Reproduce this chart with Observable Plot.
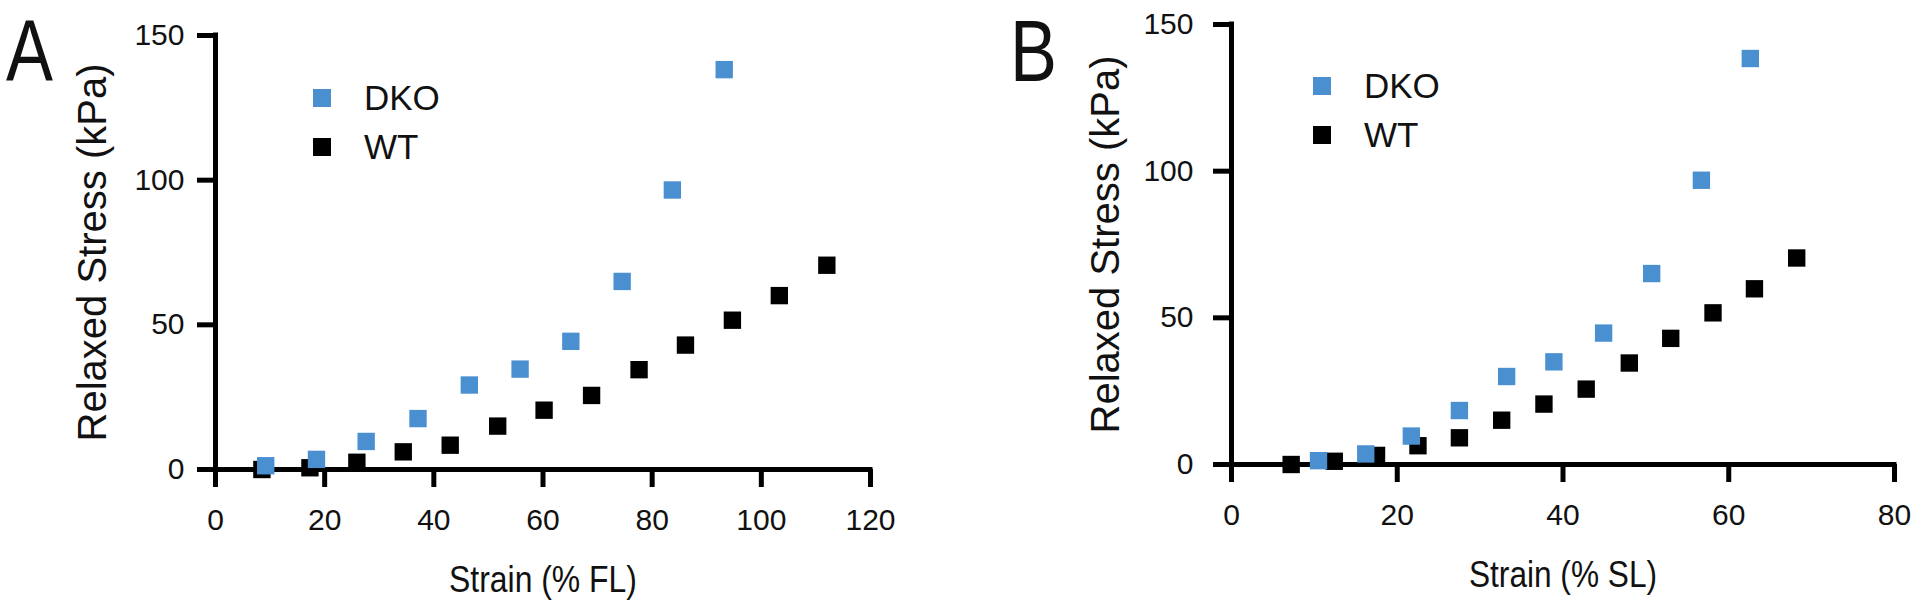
<!DOCTYPE html>
<html>
<head>
<meta charset="utf-8">
<script src="https://cdn.jsdelivr.net/npm/d3@7"></script>
<script src="https://cdn.jsdelivr.net/npm/@observablehq/plot@0.6"></script>
<style>
  html, body { margin: 0; padding: 0; background: #fff; }
  #wrap { position: relative; width: 1920px; height: 611px; overflow: hidden; background: #fff; font-family: "Liberation Sans", Arial, sans-serif; color: #111; }
  .panel { position: absolute; top: 0; width: 960px; height: 611px; }
  .letter { position: absolute; font-size: 88px; line-height: 1.16; transform: scaleX(0.8); transform-origin: left top; color: #111; font-family: "Liberation Sans", Arial, sans-serif; }
  .legend { position: absolute; }
  .legend .row { position: absolute; left: 0; display: flex; align-items: center; white-space: nowrap; }
  .legend .sw { width: 18px; height: 18px; }
  .legend .lab { font-size: 35px; margin-left: 33px; line-height: 1.15; }
</style>
</head>
<body>
<div id="wrap">
  <div class="panel" id="pa" style="left:0px"></div>
  <div class="panel" id="pb" style="left:960px"></div>
</div>
<script>
// ---------- data ----------
const seriesNames = ["DKO", "WT"];
const seriesColors = ["#4a8fd0", "#000000"];

// Panel A: Strain (% FL)
const dkoA_x = [9.2, 18.5, 27.6, 37.1, 46.5, 55.8, 65.1, 74.5, 83.7, 93.2];
const dkoA_y = [1.3, 3.5, 9.7, 17.6, 29.2, 34.7, 44.3, 65.0, 96.6, 138.2];
const wtA_x = [8.5, 17.3, 25.9, 34.4, 43.0, 51.7, 60.2, 68.9, 77.6, 86.1, 94.7, 103.3, 112.0];
const wtA_y = [0.0, 0.6, 2.5, 6.1, 8.4, 15.0, 20.5, 25.6, 34.5, 43.0, 51.6, 60.1, 70.6];

// Panel B: Strain (% SL)
const dkoB_x = [10.5, 16.2, 21.7, 27.5, 33.2, 38.9, 44.9, 50.7, 56.7, 62.6];
const dkoB_y = [1.3, 3.6, 9.7, 18.4, 30.0, 35.0, 44.8, 65.1, 96.9, 138.4];
const wtB_x = [7.2, 12.4, 17.5, 22.5, 27.5, 32.6, 37.7, 42.8, 48.0, 53.0, 58.1, 63.1, 68.2];
const wtB_y = [0.0, 1.1, 3.1, 6.4, 9.1, 15.1, 20.6, 25.7, 34.6, 43.0, 51.7, 59.9, 70.4];

const xTicksA = [0, 20, 40, 60, 80, 100, 120];
const xTicksB = [0, 20, 40, 60, 80];
const yTicks = [0, 50, 100, 150];

const xLabelA = "Strain (% FL)";
const xLabelB = "Strain (% SL)";
const yLabel = "Relaxed Stress (kPa)";
const panelLetters = ["A", "B"];

// ---------- helpers ----------
const toRows = (xs, ys) => xs.map((x, i) => ({x, y: ys[i]}));
const FONT = '"Liberation Sans", Arial, sans-serif';

function panel({xDomain, xTicks, xLabel, dko, wt, m, yPad, yTitleDx}) {
  const svg = Plot.plot({
    width: 960,
    height: 611,
    marginLeft: m.left, marginRight: m.right, marginTop: m.top, marginBottom: m.bottom,
    x: {domain: xDomain},
    y: {domain: [0, 150]},
    style: {fontFamily: FONT, color: "#111", background: "transparent", overflow: "visible"},
    marks: [
      Plot.ruleY([0], {stroke: "#000", strokeWidth: 5, strokeLinecap: "square"}),
      Plot.ruleX([0], {stroke: "#000", strokeWidth: 5, strokeLinecap: "square"}),
      Plot.axisX({ticks: xTicks, tickSize: 18, tickPadding: 21, strokeWidth: 5, stroke: "#000", fontSize: 30, label: null, tickFormat: d => String(d)}),
      Plot.axisY({ticks: yTicks, tickSize: 18, tickPadding: yPad, strokeWidth: 5, stroke: "#000", fontSize: 30, label: null, tickFormat: d => String(d)}),
      Plot.text([xLabel], {text: d => d, frameAnchor: "bottom", dy: 111, fontSize: 37, textAnchor: "middle", lineAnchor: "middle"}),
      Plot.text([yLabel], {text: d => d, frameAnchor: "left", dx: yTitleDx, rotate: -90, fontSize: 40, textAnchor: "middle", lineAnchor: "middle"}),
      Plot.dot(wt, {x: "x", y: "y", symbol: "square", r: 9.8, fill: seriesColors[1], stroke: null}),
      Plot.dot(dko, {x: "x", y: "y", symbol: "square", r: 9.8, fill: seriesColors[0], stroke: null})
    ]
  });
  // slightly condensed x-axis title, as in the reference typeface
  d3.select(svg).selectAll("text")
    .filter(function () { return this.textContent === xLabel; })
    .attr("textLength", 188)
    .attr("lengthAdjust", "spacingAndGlyphs");
  return svg;
}

const pa = document.getElementById("pa");
const pb = document.getElementById("pb");

pa.appendChild(panel({
  xDomain: [0, 120], xTicks: xTicksA, xLabel: xLabelA,
  dko: toRows(dkoA_x, dkoA_y), wt: toRows(wtA_x, wtA_y),
  m: {left: 215, right: 90, top: 35, bottom: 142}, yPad: 13, yTitleDx: -122
}));
pb.appendChild(panel({
  xDomain: [0, 80], xTicks: xTicksB, xLabel: xLabelB,
  dko: toRows(dkoB_x, dkoB_y), wt: toRows(wtB_x, wtB_y),
  m: {left: 271, right: 26, top: 24, bottom: 147}, yPad: 20, yTitleDx: -125
}));

// panel letters and legends (HTML overlays)
function addLetter(el, txt, left, top) {
  const d = document.createElement("div");
  d.className = "letter";
  d.textContent = txt;
  d.style.left = left + "px";
  d.style.top = top + "px";
  el.appendChild(d);
}
function addLegend(el, left, centers) {
  const lg = document.createElement("div");
  lg.className = "legend";
  lg.style.left = left + "px";
  lg.style.top = "0px";
  seriesNames.forEach((name, i) => {
    const row = document.createElement("div");
    row.className = "row";
    row.style.top = (centers[i] - 20) + "px";
    row.style.height = "40px";
    const sw = document.createElement("div");
    sw.className = "sw";
    sw.style.background = seriesColors[i];
    const lab = document.createElement("span");
    lab.className = "lab";
    lab.textContent = name;
    row.appendChild(sw);
    row.appendChild(lab);
    lg.appendChild(row);
  });
  el.appendChild(lg);
}
addLetter(pa, panelLetters[0], 6, 0);
addLetter(pb, panelLetters[1], 50, 0);
addLegend(pa, 313, [98, 147]);
addLegend(pb, 353, [86, 135]);
</script>
</body>
</html>
